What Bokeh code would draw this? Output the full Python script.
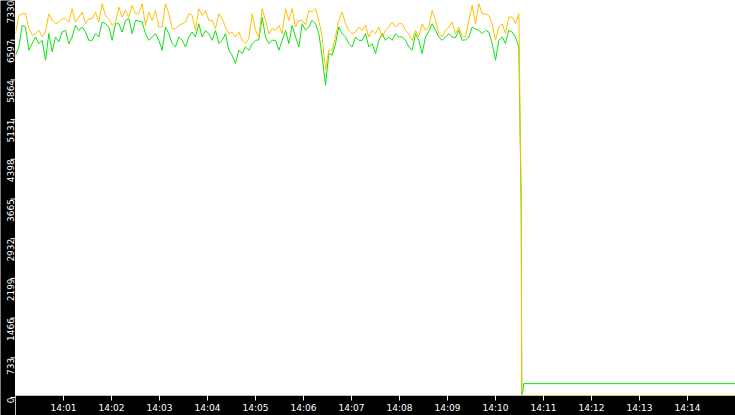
import math
from bokeh.plotting import figure
from bokeh.layouts import row
from bokeh.models import Range1d, FixedTicker
from bokeh.core.properties import value
from bokeh.embed import file_html
from bokeh.resources import INLINE

# ---- data -------------------------------------------------------------
# seconds after 14:00:00; regular samples until the drop
SAMPLE_STEP = 25 / 6
N_SAMPLES = 152

orange_values = [
    6715, 7053, 7084, 7084, 6807, 6684, 6715, 6776, 6653, 6745,
    7084, 6961, 6899, 6930, 6991, 6991, 6930, 7176, 6930, 7022,
    7115, 6899, 6991, 6991, 7115, 6930, 7268, 7053, 6991, 6868,
    6930, 7207, 7022, 7145, 7022, 7238, 7084, 7100, 7268, 6868,
    # 14:02:10 ..
    7115, 6961, 7145, 6838, 6838, 7268, 7084, 6807, 6807, 6868,
    6899, 6930, 7084, 7053, 6776, 7176, 7053, 7145, 6961, 6961,
    6807, 7084, 6991, 6838, 6715, 6745, 6653, 6745, 6591, 6530,
    6622, 7084, 6776, 6653, 7176, 6961, 6715, 6807, 6776,
    # 14:05:25 ..
    6868, 6715, 7176, 6961, 7176, 6838, 6961, 6961, 6880, 7145,
    7115, 7176, 6961, 6653, 6038, 6407, 6407, 6653, 6961, 7115,
    6899, 6776, 6715, 6745, 6838, 6776, 6868, 6653, 6776, 6715,
    6838, 6653, 6776, 6838, 6930, 6838, 6899,
    # 14:08:00 ..
    6899, 6776, 6715, 6591, 6776, 6653, 6899, 6776, 6838, 7145,
    6961, 6715, 6653, 6776, 6838, 6930, 6715, 6838, 6653, 6653,
    6961, 7238, 6900, 7268, 7084, 7084, 7053, 6899, 6591, 6838,
    6899, 6715, 7022, 7022, 6899, 7084,
]

green_values = [
    6314, 6468, 6868, 6838, 6407, 6530, 6653, 6530, 6591, 6222,
    6715, 6376, 6653, 6561, 6745, 6776, 6530, 6653, 6868, 6776,
    6838, 6745, 6591, 6591, 6715, 6653, 6930, 6899, 6838, 6591,
    6899, 6899, 6745, 6961, 6991, 6715, 6961, 6950, 6930, 6715,
    # 14:02:10 ..
    6591, 6653, 6715, 6591, 6407, 6838, 6715, 6530, 6468, 6653,
    6591, 6468, 6653, 6745, 6653, 6899, 6653, 6776, 6715, 6591,
    6776, 6530, 6591, 6715, 6407, 6314, 6161, 6407, 6345, 6468,
    6407, 6530, 6591, 6600, 7022, 6653, 6530, 6591, 6591,
    # 14:05:25 ..
    6407, 6591, 6776, 6530, 6868, 6653, 6468, 6900, 6780, 6838,
    6961, 6899, 6715, 6284, 5761, 6345, 6314, 6530, 6838, 6715,
    6653, 6530, 6468, 6653, 6591, 6591, 6715, 6468, 6530, 6345,
    6591, 6715, 6591, 6653, 6591, 6715, 6653,
    # 14:08:00 ..
    6653, 6591, 6468, 6407, 6715, 6591, 6345, 6653, 6760, 6899,
    6776, 6653, 6591, 6653, 6715, 6653, 6640, 6776, 6591, 6600,
    6653, 6838, 6800, 6776, 6715, 6776, 6745, 6530, 6222, 6591,
    6653, 6530, 6776, 6745, 6653, 6468,
]

# after the drop at about 14:10:33
drop_times = [632.2, 632.8, 634.6, 635.2, 900.0]
orange_after = [3430, 0, 0, 0, 0]
green_after = [3430, 0, 110, 220, 220]

y_ticks = [0, 733, 1466, 2199, 2932, 3665, 4398, 5131, 5864, 6597, 7330]
y_tick_labels = ["0", "733", "1466", "2199", "2932", "3665", "4398", "5131",
                 "5864", "6597", "7330"]
x_tick_seconds = [60, 120, 180, 240, 300, 360, 420, 480, 540, 600, 660, 720, 780, 840]
x_tick_labels = ["14:01", "14:02", "14:03", "14:04", "14:05", "14:06", "14:07",
                 "14:08", "14:09", "14:10", "14:11", "14:12", "14:13", "14:14"]

times = [i * SAMPLE_STEP for i in range(N_SAMPLES)]
orange_t = times + drop_times
green_t = times + drop_times
orange_y = orange_values + orange_after
green_y = green_values + green_after

# ---- layout constants -------------------------------------------------
TOTAL_H = 415
BOTTOM_BAND = 18
LEFT_W = 15
MAIN_W = 720
Y_MAX = 7330
FONT = "DejaVu Sans"
FSIZE = "9px"
# left band shares the vertical scale of the main frame, extended over the bottom band
left_bottom = -Y_MAX * BOTTOM_BAND / (TOTAL_H - BOTTOM_BAND)

# ---- main figure ------------------------------------------------------
mp = figure(width=MAIN_W, height=TOTAL_H, output_backend="svg", toolbar_location=None,
            x_range=Range1d(0, 900), y_range=Range1d(0, Y_MAX), y_axis_location=None,
            min_border_top=0, min_border_right=0, min_border_left=0,
            min_border_bottom=BOTTOM_BAND)
mp.background_fill_color = "white"
mp.border_fill_color = "black"
mp.outline_line_color = None
mp.grid.visible = False

mp.line(green_t, green_y, line_color="#10e010", line_width=1)
mp.line(orange_t, orange_y, line_color="#ffc000", line_width=1)

xa = mp.xaxis[0]
xa.axis_line_color = None
xa.major_tick_line_color = "white"
xa.major_tick_out = 5
xa.major_tick_in = 0
xa.minor_tick_line_color = None
xa.major_label_text_color = "white"
xa.major_label_text_font = FONT
xa.major_label_text_font_size = FSIZE
xa.major_label_standoff = 2
xa.ticker = FixedTicker(ticks=x_tick_seconds)
xa.major_label_overrides = {t: lab for t, lab in zip(x_tick_seconds, x_tick_labels)}

# ---- left band with the rotated value labels --------------------------
lp = figure(width=LEFT_W, height=TOTAL_H, output_backend="svg", toolbar_location=None,
            x_range=Range1d(0, LEFT_W), y_range=Range1d(left_bottom, Y_MAX),
            x_axis_location=None, y_axis_location=None,
            min_border_top=0, min_border_right=0, min_border_left=0, min_border_bottom=0)
lp.frame_align = False
lp.background_fill_color = "black"
lp.border_fill_color = "black"
lp.outline_line_color = None
lp.grid.visible = False

lp.segment(x0=[10] * len(y_ticks), x1=[LEFT_W] * len(y_ticks), y0=y_ticks, y1=y_ticks,
           line_color="white", line_width=1)
lp.text(x=[10] * len(y_ticks), y=y_ticks, text=y_tick_labels, angle=math.pi / 2,
        text_align="right", text_baseline="alphabetic", text_color="white",
        text_font=value(FONT), text_font_size=FSIZE)

p = row(lp, mp)

open("out.html", "w").write(file_html(p, INLINE))
